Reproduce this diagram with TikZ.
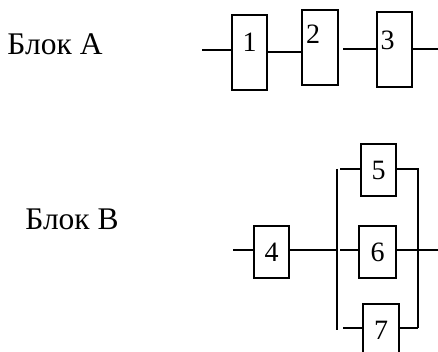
\documentclass[tikz,border=0pt]{standalone}
\usepackage{fontspec}
\setmainfont{Liberation Serif}

\tikzstyle{block} = [draw, rectangle, line width=1.8pt,
    minimum width=35pt, minimum height=52pt, inner sep=0pt,
    font=\fontsize{28}{32}\selectfont]
\tikzstyle{tallblock} = [block, minimum height=75pt]
\tikzstyle{digit} = [inner sep=0pt, font=\fontsize{28}{32}\selectfont]
\tikzstyle{title} = [font=\fontsize{31.5}{36}\selectfont]
\tikzstyle{junction} = [coordinate]

\begin{document}
\begin{tikzpicture}[x=1pt, y=-1pt, line width=1.8pt]
    \useasboundingbox (0,0) rectangle (438,352);
    \clip (0,0) rectangle (438,352);

    \node [title] (titleA) at (55,44) {Блок A};
    \node [title] (titleB) at (72,219) {Блок B};

    % block A: three units in series
    \node [tallblock, label={[digit, yshift=10.5pt]center:1}] (b1) at (249.5,52.5) {};
    \node [tallblock, minimum width=36pt, label={[digit, xshift=-7pt, yshift=13.5pt]center:2}] (b2) at (320,47.5) {};
    \node [tallblock, label={[digit, xshift=-7pt, yshift=9.5pt]center:3}] (b3) at (394.5,49.5) {};
    \node [junction] (inA) at (202,50) {};
    \node [junction] (midA) at (267,52) {};
    \node [junction] (gapA) at (343,49) {};
    \node [junction] (outA) at (438,49) {};

    \draw (inA) -- (inA -| b1.west);
    \draw (b1.east |- midA) -- (midA -| b2.west);
    \draw (gapA) -- (gapA -| b3.west);
    \draw (b3.east |- outA) -- (outA);

    % block B: one unit, then three in parallel
    \node [block] (b4) at (271.5,252) {4};
    \node [block] (b5) at (378.5,170) {5};
    \node [block, minimum width=37pt] (b6) at (377.5,252) {6};
    \node [block, minimum width=36pt] (b7) at (381,330) {7};

    \node [junction] (inB) at (233,250) {};
    \node [junction] (lt) at (337,169) {};
    \node [junction] (lm) at (337,250) {};
    \node [junction] (lb) at (337,330) {};
    \node [junction] (rt) at (418,169) {};
    \node [junction] (rb) at (418,328) {};
    \node [junction] (s5) at (340,169) {};
    \node [junction] (s6) at (340,250) {};
    \node [junction] (s7) at (343,328) {};
    \node [junction] (outB) at (438,250) {};

    \draw (inB) -- (inB -| b4.west);
    \draw (b4.east |- lm) -- (lm);
    \draw (lt) -- (lb);
    \draw (s5) -- (s5 -| b5.west);
    \draw (s6) -- (s6 -| b6.west);
    \draw (s7) -- (s7 -| b7.west);
    \draw (b5.east |- rt) -- (rt) -- (rb);
    \draw (b7.east |- rb) -- (rb);
    \draw (b6.east |- outB) -- (outB);
\end{tikzpicture}
\end{document}
